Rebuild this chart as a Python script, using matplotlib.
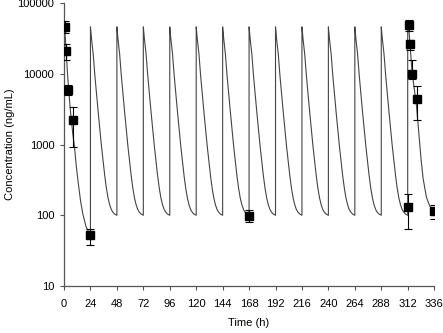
import numpy as np
import matplotlib
matplotlib.use("Agg")
import matplotlib.pyplot as plt
from matplotlib.ticker import FixedLocator, NullLocator

matplotlib.rc('font', family=['Liberation Sans', 'DejaVu Sans'], size=8)

# model curve (time after dose [h], conc [ng/mL])
first_dt = [0, 1, 2, 3, 4, 6, 8, 9.5, 11, 13, 15, 17, 20, 22, 24]
first_conc = [48000, 36000, 21000, 11000, 6500, 2800, 1400, 930, 520, 280, 160, 106, 69, 60, 55]

ss_dt = [0, 1, 2.5, 4, 5.5, 7, 8.5, 10, 11.5, 13, 14.5, 16, 17.5, 19, 20.5, 22, 24]
ss_conc = [46000, 31000, 19000, 9500, 5200, 2900, 1650, 950, 580, 360, 240, 175, 140, 120, 110, 104, 100]

last_dt = [0, 1, 2, 4, 6, 8, 10, 12, 14, 17, 20, 24]
last_conc = [50000, 45000, 27000, 10500, 6000, 3500, 1500, 650, 330, 180, 135, 115]

dose_times = [24, 48, 72, 96, 120, 144, 168, 192, 216, 240, 264, 288]
last_dose = 312

# observed data (mean, lower, upper)
obs_t = [1, 2, 4, 8, 24, 168, 312, 313, 314, 316, 320, 336]
obs_c = [46000, 21000, 5900, 2200, 52, 97, 132, 49000, 26000, 10000, 4440, 115]
obs_lo = [38000, 15500, 5000, 930, 38, 80, 63, 40000, 22000, 8500, 2250, 88]
obs_hi = [56000, 26000, 7000, 3400, 65, 118, 203, 57000, 30000, 15700, 6700, 140]

xticks = [0, 24, 48, 72, 96, 120, 144, 168, 192, 216, 240, 264, 288, 312, 336]
yticks = [10, 100, 1000, 10000, 100000]

# build the curve
t = list(first_dt)
c = list(first_conc)
for d in dose_times:
    t += [d + x for x in ss_dt]
    c += ss_conc
t += [last_dose + x for x in last_dt]
c += last_conc

fig = plt.figure(figsize=(4.43, 3.33), dpi=100)
ax = fig.add_axes([0.1445, 0.141, 0.8355, 0.85])

ax.plot(t, c, color="#444444", lw=0.8)

obs_c = np.array(obs_c)
yerr = [obs_c - np.array(obs_lo), np.array(obs_hi) - obs_c]
ax.errorbar(obs_t, obs_c, yerr=yerr, fmt="s", color="black", ms=5.5,
            ecolor="black", elinewidth=0.8, capsize=3, capthick=0.8, zorder=3)

ax.set_yscale("log")
ax.set_ylim(10, 100000)
ax.set_xlim(0, 336)
ax.yaxis.set_major_locator(FixedLocator(yticks))
ax.yaxis.set_minor_locator(NullLocator())
ax.set_yticklabels([str(v) for v in yticks])
ax.set_xticks(xticks)
ax.set_xticklabels([str(v) for v in xticks])

ax.spines["top"].set_visible(False)
ax.spines["right"].set_visible(False)
for s in ["left", "bottom"]:
    ax.spines[s].set_color("#555555")
    ax.spines[s].set_linewidth(0.9)
ax.tick_params(direction="out", length=3, width=0.8, color="#555555")
ax.tick_params(axis="x", pad=6)
ax.tick_params(axis="y", pad=4)

ax.set_xlabel("Time (h)", labelpad=7)
ax.set_ylabel("Concentration (ng/mL)", labelpad=2)

fig.savefig("out.png", dpi=100)
